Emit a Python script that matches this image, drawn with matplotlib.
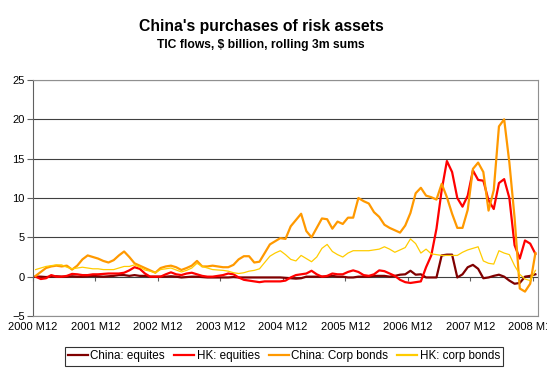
import numpy as np
import matplotlib
matplotlib.use("Agg")
import matplotlib.pyplot as plt

plt.rcParams["font.family"] = ["Liberation Sans", "DejaVu Sans"]

# monthly categories, 2000 M12 .. 2008 M12
months = [f"{2000 + (11 + i) // 12} M{(11 + i) % 12 + 1}" for i in range(97)]

china_equities = [
    0.0, 0.0, -0.05, 0.0, 0.05, 0.0, 0.0, 0.05, 0.0, 0.0,
    0.05, 0.1, 0.05, 0.0, 0.05, 0.1, 0.2, 0.2, 0.1, 0.2,
    0.1, 0.1, 0.0, 0.0, 0.0, 0.0, 0.05, 0.0, -0.1, -0.05,
    0.0, 0.0, -0.05, -0.1, -0.1, -0.1, -0.1, -0.1, -0.05, -0.1,
    -0.1, -0.1, -0.1, -0.1, -0.1, -0.1, -0.1, -0.1, -0.15, -0.2,
    -0.25, -0.2, 0.0, 0.0, 0.0, 0.0, 0.0, 0.1, 0.0, 0.0,
    -0.1, -0.1, 0.0, 0.0, 0.0, 0.1, 0.1, 0.1, 0.0, 0.1,
    0.25, 0.3, 0.75, 0.25, 0.3, -0.1, -0.1, -0.1, 2.7, 2.8,
    2.8, -0.1, 0.3, 1.2, 1.5, 1.0, -0.2, -0.1, 0.1, 0.25,
    0.0, -0.5, -0.9, -0.8, 0.0, 0.1, 0.3,
]

hk_equities = [
    0.0, -0.3, -0.2, 0.2, 0.0, 0.0, 0.1, 0.35, 0.3, 0.2,
    0.2, 0.3, 0.3, 0.35, 0.4, 0.4, 0.4, 0.5, 0.8, 1.2,
    1.0, 0.4, 0.0, 0.0, 0.0, 0.3, 0.55, 0.3, 0.2, 0.4,
    0.5, 0.3, 0.1, 0.0, 0.0, 0.1, 0.2, 0.4, 0.3, -0.1,
    -0.4, -0.5, -0.6, -0.7, -0.6, -0.6, -0.6, -0.6, -0.5, -0.1,
    0.2, 0.3, 0.4, 0.75, 0.3, 0.0, 0.1, 0.4, 0.3, 0.3,
    0.6, 0.8, 0.6, 0.2, 0.1, 0.3, 0.8, 0.7, 0.4, 0.1,
    -0.4, -0.7, -0.8, -0.7, -0.6, 1.2, 2.7, 6.1, 11.0, 14.7,
    13.3, 10.0, 8.9, 10.3, 13.5, 12.3, 12.2, 9.7, 8.6, 11.9,
    12.4, 10.0, 4.0, 2.3, 4.6, 4.2, 2.9,
]

china_corp_bonds = [
    0.1, 0.6, 1.1, 1.3, 1.4, 1.3, 1.4, 0.9, 1.4, 2.2,
    2.7, 2.5, 2.3, 2.0, 1.8, 2.1, 2.7, 3.2, 2.5, 1.7,
    1.4, 1.1, 0.8, 0.5, 1.1, 1.3, 1.4, 1.2, 0.85, 1.1,
    1.4, 2.0, 1.3, 1.3, 1.4, 1.3, 1.2, 1.2, 1.5, 2.2,
    2.6, 2.6, 1.8, 1.9, 3.0, 4.1, 4.5, 4.9, 4.8, 6.4,
    7.2, 8.0, 5.8, 5.0, 6.2, 7.4, 7.3, 6.1, 7.0, 6.7,
    7.5, 7.5, 10.0, 9.6, 9.3, 8.2, 7.6, 6.6, 6.2, 5.9,
    5.6, 6.5, 8.1, 10.6, 11.3, 10.3, 10.1, 9.8, 11.8, 10.1,
    8.0, 6.2, 6.2, 8.5, 13.7, 14.5, 13.3, 8.4, 11.0, 19.1,
    20.0, 14.5, 7.5, -1.5, -1.9, -0.9, 3.0,
]

hk_corp_bonds = [
    0.9, 1.1, 1.3, 1.4, 1.5, 1.5, 1.2, 1.0, 1.1, 1.2,
    1.1, 1.0, 1.0, 0.9, 0.9, 0.9, 1.1, 1.3, 1.3, 1.5,
    1.2, 0.85, 0.7, 0.5, 0.9, 1.0, 1.1, 0.85, 0.6, 0.8,
    1.1, 1.7, 1.3, 1.1, 0.9, 0.85, 0.8, 0.7, 0.5, 0.4,
    0.5, 0.7, 0.8, 1.0, 1.8, 2.6, 3.0, 3.3, 2.8, 2.2,
    2.0, 2.7, 2.3, 1.9, 2.5, 3.6, 4.1, 3.2, 2.8, 2.5,
    3.0, 3.3, 3.3, 3.3, 3.3, 3.4, 3.5, 3.8, 3.5, 3.1,
    3.4, 3.7, 4.8, 4.2, 3.0, 3.5, 2.9, 2.8, 2.7, 2.7,
    2.7, 2.7, 3.1, 3.4, 3.6, 3.8, 2.0, 1.7, 1.6, 3.3,
    3.0, 2.8, 1.4, 0.3, -0.3, -0.5, 0.8,
]

series = [
    ("China: equites", china_equities, "#800000", 1.6),
    ("HK: equities", hk_equities, "#ff0000", 1.6),
    ("China: Corp bonds", china_corp_bonds, "#ff9900", 1.6),
    ("HK: corp bonds", hk_corp_bonds, "#ffcc00", 0.9),
]

x = np.arange(len(months))

fig = plt.figure(figsize=(5.47, 3.74), dpi=100)
ax = fig.add_axes([33 / 547, 1 - 316 / 374, 505 / 547, 236 / 374])

for label, vals, color, lw in series:
    ax.plot(x, vals, color=color, lw=lw, label=label)

ax.set_xlim(-0.5, len(months) - 0.5)
ax.set_ylim(-5, 25)
ax.set_yticks(range(-5, 30, 5))
ax.yaxis.grid(True, color="#404040", lw=0.8)
ax.set_axisbelow(True)
ax.tick_params(axis="y", length=4, width=0.8, color="#606060", pad=2, labelsize=8)

# category labels (every 12th month) along the bottom
label_idx = list(range(0, len(months), 12))
ax.set_xticks([k - 0.5 for k in label_idx])
ax.set_xticklabels([months[k] for k in label_idx])
ax.tick_params(axis="x", length=0, pad=4, labelsize=8)

# category axis crosses at zero: tick marks hang from the zero line
sec = ax.secondary_xaxis(5 / 30)
sec.set_xticks([k - 0.5 for k in label_idx])
sec.set_xticklabels([])
sec.tick_params(axis="x", length=3, width=0.8, color="#606060", direction="out")
sec.spines["bottom"].set_visible(False)

for side in ["top", "right", "bottom"]:
    ax.spines[side].set_color("#909090")
    ax.spines[side].set_linewidth(0.8)
ax.spines["left"].set_color("#606060")
ax.spines["left"].set_linewidth(0.8)

fig.text(261 / 547, 1 - 27 / 374, "China's purchases of risk assets",
         ha="center", va="center", fontsize=11.3, fontweight="bold")
fig.text(261 / 547, 1 - 45 / 374, "TIC flows, $ billion, rolling 3m sums",
         ha="center", va="center", fontsize=8.7, fontweight="bold")

leg = fig.legend(loc="center", bbox_to_anchor=(284 / 547, 1 - 356.5 / 374), ncol=4,
                 fontsize=8.4, handlelength=1.7, handletextpad=0.2, columnspacing=0.8,
                 borderpad=0.3, frameon=True, fancybox=False)
leg.get_frame().set_edgecolor("black")
leg.get_frame().set_linewidth(0.8)
for line in leg.get_lines():
    line.set_linewidth(1.6)

fig.savefig("out.png", dpi=100)
